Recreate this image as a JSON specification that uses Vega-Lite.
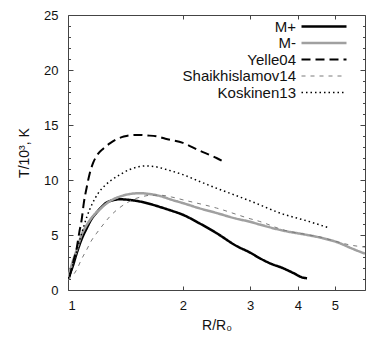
{
  "$schema": "https://vega.github.io/schema/vega-lite/v6.json",
  "width": 297,
  "height": 275,
  "autosize": {"type": "none"},
  "padding": {"left": 68, "top": 15, "right": 12, "bottom": 49},
  "config": {
    "font": "Liberation Sans",
    "view": {"stroke": "#444", "strokeWidth": 1},
    "axis": {"grid": false, "domain": false, "tickColor": "#444", "tickWidth": 1, "labelColor": "#111", "titleColor": "#111", "labelFontSize": 13, "titleFontSize": 14, "titleFontWeight": "normal"}
  },
  "data": {"values": [
    {"series": "M+", "R": 1.0, "T": 1.05},
    {"series": "M+", "R": 1.03, "T": 2.2},
    {"series": "M+", "R": 1.054, "T": 3.35},
    {"series": "M+", "R": 1.085, "T": 4.6},
    {"series": "M+", "R": 1.119, "T": 5.6},
    {"series": "M+", "R": 1.15, "T": 6.4},
    {"series": "M+", "R": 1.189, "T": 7.05},
    {"series": "M+", "R": 1.225, "T": 7.55},
    {"series": "M+", "R": 1.262, "T": 7.95},
    {"series": "M+", "R": 1.31, "T": 8.15},
    {"series": "M+", "R": 1.368, "T": 8.25},
    {"series": "M+", "R": 1.44, "T": 8.2},
    {"series": "M+", "R": 1.513, "T": 8.1},
    {"series": "M+", "R": 1.64, "T": 7.82},
    {"series": "M+", "R": 1.741, "T": 7.55},
    {"series": "M+", "R": 1.87, "T": 7.2},
    {"series": "M+", "R": 2.0, "T": 6.84},
    {"series": "M+", "R": 2.2, "T": 6.1},
    {"series": "M+", "R": 2.45, "T": 5.17},
    {"series": "M+", "R": 2.765, "T": 4.0},
    {"series": "M+", "R": 3.0, "T": 3.4},
    {"series": "M+", "R": 3.18, "T": 2.89},
    {"series": "M+", "R": 3.38, "T": 2.43},
    {"series": "M+", "R": 3.66, "T": 1.98},
    {"series": "M+", "R": 3.89, "T": 1.55},
    {"series": "M+", "R": 4.13, "T": 1.12},
    {"series": "M+", "R": 4.23, "T": 1.07},

    {"series": "M-", "R": 1.0, "T": 1.1},
    {"series": "M-", "R": 1.025, "T": 2.4},
    {"series": "M-", "R": 1.054, "T": 3.65},
    {"series": "M-", "R": 1.085, "T": 5.0},
    {"series": "M-", "R": 1.119, "T": 5.9},
    {"series": "M-", "R": 1.165, "T": 6.75},
    {"series": "M-", "R": 1.213, "T": 7.35},
    {"series": "M-", "R": 1.26, "T": 7.85},
    {"series": "M-", "R": 1.314, "T": 8.25},
    {"series": "M-", "R": 1.37, "T": 8.5},
    {"series": "M-", "R": 1.424, "T": 8.67},
    {"series": "M-", "R": 1.544, "T": 8.8},
    {"series": "M-", "R": 1.64, "T": 8.72},
    {"series": "M-", "R": 1.741, "T": 8.55},
    {"series": "M-", "R": 1.87, "T": 8.2},
    {"series": "M-", "R": 2.0, "T": 7.9},
    {"series": "M-", "R": 2.2, "T": 7.45},
    {"series": "M-", "R": 2.45, "T": 7.0},
    {"series": "M-", "R": 2.75, "T": 6.5},
    {"series": "M-", "R": 3.0, "T": 6.2},
    {"series": "M-", "R": 3.18, "T": 5.95},
    {"series": "M-", "R": 3.66, "T": 5.4},
    {"series": "M-", "R": 4.21, "T": 5.02},
    {"series": "M-", "R": 4.6, "T": 4.75},
    {"series": "M-", "R": 5.15, "T": 4.26},
    {"series": "M-", "R": 5.47, "T": 3.86},
    {"series": "M-", "R": 6.0, "T": 3.3},

    {"series": "Yelle04", "R": 1.01, "T": 1.2},
    {"series": "Yelle04", "R": 1.033, "T": 2.6},
    {"series": "Yelle04", "R": 1.054, "T": 3.8},
    {"series": "Yelle04", "R": 1.07, "T": 5.2},
    {"series": "Yelle04", "R": 1.086, "T": 6.4},
    {"series": "Yelle04", "R": 1.1, "T": 7.9},
    {"series": "Yelle04", "R": 1.119, "T": 9.3},
    {"series": "Yelle04", "R": 1.14, "T": 10.6},
    {"series": "Yelle04", "R": 1.165, "T": 11.6},
    {"series": "Yelle04", "R": 1.2, "T": 12.4},
    {"series": "Yelle04", "R": 1.237, "T": 12.85},
    {"series": "Yelle04", "R": 1.29, "T": 13.35},
    {"series": "Yelle04", "R": 1.341, "T": 13.7},
    {"series": "Yelle04", "R": 1.4, "T": 13.95},
    {"series": "Yelle04", "R": 1.453, "T": 14.07},
    {"series": "Yelle04", "R": 1.53, "T": 14.1},
    {"series": "Yelle04", "R": 1.607, "T": 14.05},
    {"series": "Yelle04", "R": 1.703, "T": 13.98},
    {"series": "Yelle04", "R": 1.8, "T": 13.75},
    {"series": "Yelle04", "R": 2.0, "T": 13.38},
    {"series": "Yelle04", "R": 2.2, "T": 12.7},
    {"series": "Yelle04", "R": 2.45, "T": 12.0},
    {"series": "Yelle04", "R": 2.59, "T": 11.55},

    {"series": "Shaikhislamov14", "R": 1.0, "T": 0.9},
    {"series": "Shaikhislamov14", "R": 1.054, "T": 1.85},
    {"series": "Shaikhislamov14", "R": 1.085, "T": 2.8},
    {"series": "Shaikhislamov14", "R": 1.119, "T": 3.65},
    {"series": "Shaikhislamov14", "R": 1.15, "T": 4.45},
    {"series": "Shaikhislamov14", "R": 1.189, "T": 5.17},
    {"series": "Shaikhislamov14", "R": 1.24, "T": 6.0},
    {"series": "Shaikhislamov14", "R": 1.288, "T": 6.69},
    {"series": "Shaikhislamov14", "R": 1.35, "T": 7.35},
    {"series": "Shaikhislamov14", "R": 1.424, "T": 7.91},
    {"series": "Shaikhislamov14", "R": 1.5, "T": 8.3},
    {"series": "Shaikhislamov14", "R": 1.575, "T": 8.51},
    {"series": "Shaikhislamov14", "R": 1.65, "T": 8.62},
    {"series": "Shaikhislamov14", "R": 1.741, "T": 8.62},
    {"series": "Shaikhislamov14", "R": 1.87, "T": 8.45},
    {"series": "Shaikhislamov14", "R": 2.0, "T": 8.2},
    {"series": "Shaikhislamov14", "R": 2.45, "T": 7.45},
    {"series": "Shaikhislamov14", "R": 3.0, "T": 6.48},
    {"series": "Shaikhislamov14", "R": 3.18, "T": 6.23},
    {"series": "Shaikhislamov14", "R": 3.66, "T": 5.47},
    {"series": "Shaikhislamov14", "R": 4.2, "T": 5.05},
    {"series": "Shaikhislamov14", "R": 4.6, "T": 4.8},
    {"series": "Shaikhislamov14", "R": 5.04, "T": 4.41},
    {"series": "Shaikhislamov14", "R": 5.47, "T": 4.1},
    {"series": "Shaikhislamov14", "R": 6.0, "T": 3.9},

    {"series": "Koskinen13", "R": 1.0, "T": 1.06},
    {"series": "Koskinen13", "R": 1.012, "T": 1.52},
    {"series": "Koskinen13", "R": 1.04, "T": 2.8},
    {"series": "Koskinen13", "R": 1.075, "T": 4.6},
    {"series": "Koskinen13", "R": 1.119, "T": 6.6},
    {"series": "Koskinen13", "R": 1.16, "T": 7.9},
    {"series": "Koskinen13", "R": 1.2, "T": 8.8},
    {"series": "Koskinen13", "R": 1.25, "T": 9.5},
    {"series": "Koskinen13", "R": 1.3, "T": 10.0},
    {"series": "Koskinen13", "R": 1.37, "T": 10.5},
    {"series": "Koskinen13", "R": 1.45, "T": 10.95},
    {"series": "Koskinen13", "R": 1.53, "T": 11.2},
    {"series": "Koskinen13", "R": 1.6, "T": 11.28},
    {"series": "Koskinen13", "R": 1.7, "T": 11.2},
    {"series": "Koskinen13", "R": 1.81, "T": 10.95},
    {"series": "Koskinen13", "R": 2.0, "T": 10.49},
    {"series": "Koskinen13", "R": 2.2, "T": 9.9},
    {"series": "Koskinen13", "R": 2.45, "T": 9.25},
    {"series": "Koskinen13", "R": 2.75, "T": 8.6},
    {"series": "Koskinen13", "R": 3.0, "T": 8.1},
    {"series": "Koskinen13", "R": 3.66, "T": 6.9},
    {"series": "Koskinen13", "R": 4.21, "T": 6.3},
    {"series": "Koskinen13", "R": 4.85, "T": 5.63}
  ]},
  "resolve": {"axis": {"x": "independent", "y": "independent"}},
  "layer": [
    {
      "mark": {"type": "line", "interpolate": "monotone", "clip": true},
      "encoding": {
        "x": {"field": "R", "type": "quantitative", "scale": {"type": "log", "domain": [1, 6]},
          "axis": {"orient": "bottom", "values": [1, 2, 3, 4, 5], "format": "d", "tickSize": -4, "labelPadding": 13, "title": "R/R₀", "titlePadding": 6}},
        "y": {"field": "T", "type": "quantitative", "scale": {"domain": [0, 25]},
          "axis": {"orient": "left", "values": [0, 5, 10, 15, 20, 25], "tickSize": -5, "labelPadding": 15, "title": "T/10³, K", "titlePadding": 12}},
        "color": {"field": "series", "type": "nominal",
          "scale": {"domain": ["M+", "M-", "Yelle04", "Shaikhislamov14", "Koskinen13"], "range": ["#000000", "#a0a0a0", "#000000", "#7a7a7a", "#000000"]},
          "legend": {"orient": "none", "legendX": 232, "legendY": 4, "title": null, "padding": 0,
            "symbolType": "M-1,0H6.5", "symbolSize": 144, "labelAlign": "right", "labelOffset": -19, "labelFontSize": 15, "labelColor": "#111", "rowPadding": 0.5}},
        "strokeDash": {"field": "series", "type": "nominal",
          "scale": {"domain": ["M+", "M-", "Yelle04", "Shaikhislamov14", "Koskinen13"], "range": [[1, 0], [1, 0], [9, 5], [4, 5], [1.5, 3]]}},
        "strokeWidth": {"field": "series", "type": "ordinal",
          "scale": {"type": "ordinal", "domain": ["M+", "M-", "Yelle04", "Shaikhislamov14", "Koskinen13"], "range": [2.5, 2.5, 2, 1, 1.5]}}
      }
    },
    {
      "mark": {"type": "point", "opacity": 0},
      "encoding": {
        "x": {"field": "R", "type": "quantitative", "scale": {"type": "log", "domain": [1, 6]},
          "axis": {"orient": "top", "values": [2, 3, 4, 5], "tickSize": -4, "labels": false, "title": null}},
        "y": {"field": "T", "type": "quantitative", "scale": {"domain": [0, 25]},
          "axis": {"orient": "right", "values": [0, 5, 10, 15, 20, 25], "tickSize": -5, "labels": false, "title": null}}
      }
    },
    {
      "mark": {"type": "point", "opacity": 0},
      "encoding": {
        "x": {"field": "R", "type": "quantitative", "scale": {"type": "log", "domain": [1, 6]}, "axis": null},
        "y": {"field": "T", "type": "quantitative", "scale": {"domain": [0, 25]},
          "axis": {"orient": "left", "values": [1,2,3,4,6,7,8,9,11,12,13,14,16,17,18,19,21,22,23,24], "tickSize": -2.5, "labels": false, "title": null}}
      }
    },
    {
      "mark": {"type": "point", "opacity": 0},
      "encoding": {
        "x": {"field": "R", "type": "quantitative", "scale": {"type": "log", "domain": [1, 6]}, "axis": null},
        "y": {"field": "T", "type": "quantitative", "scale": {"domain": [0, 25]},
          "axis": {"orient": "right", "values": [1,2,3,4,6,7,8,9,11,12,13,14,16,17,18,19,21,22,23,24], "tickSize": -2.5, "labels": false, "title": null}}
      }
    }
  ]
}
